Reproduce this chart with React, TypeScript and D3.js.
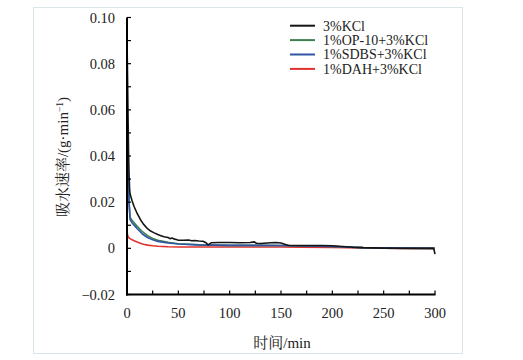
import React from "react";
import * as d3 from "d3";

const seriesNames = ["3%KCl", "1%OP-10+3%KCl", "1%SDBS+3%KCl", "1%DAH+3%KCl"];
const seriesColors = ["#151515", "#3f7f4f", "#2f55a4", "#e0322e"];

const kclT = [0, 0.5, 1, 1.5, 2, 2.5, 3, 4, 5, 7, 10, 13, 16, 20, 23, 26, 30, 33, 36, 40, 42, 44, 46, 48, 50, 55, 60, 63, 66, 70, 74, 77, 79, 82, 90, 100, 110, 120, 124, 126, 130, 140, 145, 150, 155, 158, 170, 190, 200, 210, 220, 230, 240, 250, 270, 298, 299, 300];
const kclV = [0.091, 0.075, 0.058, 0.042, 0.032, 0.026, 0.0235, 0.022, 0.0205, 0.018, 0.015, 0.0125, 0.0105, 0.0085, 0.0075, 0.0068, 0.006, 0.0055, 0.005, 0.0047, 0.0042, 0.0045, 0.004, 0.0038, 0.0035, 0.0035, 0.0036, 0.0033, 0.0034, 0.0032, 0.0031, 0.0024, 0.0015, 0.0024, 0.0025, 0.0025, 0.0024, 0.0025, 0.0028, 0.0022, 0.0021, 0.0024, 0.0025, 0.0023, 0.0016, 0.0012, 0.0012, 0.0012, 0.0011, 0.0008, 0.0005, 0.0003, 0.0002, 0.0001, 0.0, 0.0, -0.0005, -0.0025];

const opT = [0, 0.5, 1, 1.5, 2, 3, 5, 8, 10, 15, 20, 25, 30, 40, 50, 70, 100, 130, 150, 170, 200, 230, 250, 270, 300];
const opV = [0.02, 0.03, 0.033, 0.028, 0.02, 0.0135, 0.012, 0.0105, 0.0095, 0.0072, 0.0055, 0.0043, 0.0035, 0.0026, 0.002, 0.0015, 0.0013, 0.0013, 0.0012, 0.001, 0.0008, 0.0003, 0.0002, 0.0001, 0.0];

const sdbsT = [0, 0.5, 1, 1.5, 2, 3, 5, 8, 10, 15, 20, 25, 30, 40, 50, 70, 100, 130, 150, 170, 200, 230, 250, 270, 300];
const sdbsV = [0.03, 0.04, 0.038, 0.03, 0.02, 0.0125, 0.011, 0.0095, 0.0085, 0.0062, 0.0047, 0.0037, 0.003, 0.0023, 0.0019, 0.0015, 0.0013, 0.0013, 0.0012, 0.001, 0.0008, 0.0003, 0.0002, 0.0001, 0.0];

const dahT = [0, 0.5, 1, 2, 3, 5, 8, 10, 13, 16, 20, 25, 30, 40, 50, 70, 100, 130, 150, 170, 200, 230, 250, 270, 300];
const dahV = [0.0075, 0.006, 0.005, 0.0045, 0.0042, 0.0037, 0.0031, 0.0027, 0.0022, 0.0018, 0.0014, 0.0011, 0.0009, 0.0007, 0.0006, 0.0006, 0.0006, 0.0006, 0.0006, 0.0005, 0.0004, 0.0002, 0.0001, 0.0, 0.0];

const xTickLabels = [0, 50, 100, 150, 200, 250, 300];
const yTickLabels = [-0.02, 0, 0.02, 0.04, 0.06, 0.08, 0.1];

const W = 523, H = 360;
const left = 127, right = 435, top = 17.5, bottom = 294.5;

export default function App() {
  const x = d3.scaleLinear().domain([0, 300]).range([left, right]);
  const y = d3.scaleLinear().domain([-0.02, 0.1]).range([bottom, top]);
  const line = d3.line<[number, number]>().x(d => x(d[0])).y(d => y(d[1]));
  const series: [number[], number[]][] = [[kclT, kclV], [opT, opV], [sdbsT, sdbsV], [dahT, dahV]];
  const drawOrder = [3, 1, 2, 0];
  const xMinor = d3.range(0, 301, 25);
  const yMinor = d3.range(-0.02, 0.1001, 0.01);
  const font = "'Liberation Serif', 'Times New Roman', serif";
  const cjk = "'Noto Serif CJK SC', 'Noto Sans CJK SC', serif";
  const fmtY = (v: number) => (v === 0 ? "0" : v < 0 ? "\u22120.02" : v.toFixed(2));
  return (
    <svg width={W} height={H} style={{ position: "absolute", left: 0, top: 0, background: "#fff" }}>
      <rect x={33.5} y={7.5} width={429} height={346} fill="none" stroke="#dce6ea" strokeWidth={1} />
      {drawOrder.map(s => {
        const [ts, vs] = series[s];
        const pts = ts.map((t, j) => [t, vs[j]] as [number, number]);
        return <path key={s} d={line(pts) || ""} fill="none" stroke={seriesColors[s]} strokeWidth={1.6} strokeLinejoin="round" />;
      })}
      <line x1={left} x2={left} y1={top} y2={bottom + 1} stroke="#000" strokeWidth={2} />
      <line x1={left - 1} x2={right + 0.5} y1={bottom} y2={bottom} stroke="#000" strokeWidth={2} />
      {yMinor.map((v, i) => (
        <line key={"yt" + i} x1={left} x2={left + 4} y1={y(v)} y2={y(v)} stroke="#000" strokeWidth={1.2} />
      ))}
      {xMinor.map((v, i) => (
        <line key={"xt" + i} x1={x(v)} x2={x(v)} y1={bottom} y2={bottom - 4} stroke="#000" strokeWidth={1.2} />
      ))}
      {yTickLabels.map((v, i) => (
        <text key={"yl" + i} x={115} y={y(v)} dy="0.35em" textAnchor="end" fontFamily={font} fontSize={14.5} fill="#222">{fmtY(v)}</text>
      ))}
      {xTickLabels.map((v, i) => (
        <text key={"xl" + i} x={x(v)} y={313} dy="0.35em" textAnchor="middle" fontFamily={font} fontSize={14.5} fill="#222">{v}</text>
      ))}
      <text x={282} y={343} dy="0.35em" textAnchor="middle" fontSize={15} fill="#222">
        <tspan fontFamily={cjk}>时间</tspan>
        <tspan fontFamily={font}>/min</tspan>
      </text>
      <text transform={`translate(63,157) rotate(-90)`} dy="0.35em" textAnchor="middle" fontSize={15} fill="#222">
        <tspan fontFamily={cjk}>吸水速率</tspan>
        <tspan fontFamily={font}>/(g·min</tspan>
        <tspan fontFamily={font} fontSize={9.5} dy="-5">−1</tspan>
        <tspan fontFamily={font} dy="5">)</tspan>
      </text>
      {seriesNames.map((n, i) => (
        <g key={"lg" + i} transform={`translate(290, ${25.7 + i * 14.4})`}>
          <line x1={0} x2={25} y1={0} y2={0} stroke={seriesColors[i]} strokeWidth={2} />
          <text x={33} y={0} dy="0.35em" fontFamily={font} fontSize={14} fill="#222">{n}</text>
        </g>
      ))}
    </svg>
  );
}
